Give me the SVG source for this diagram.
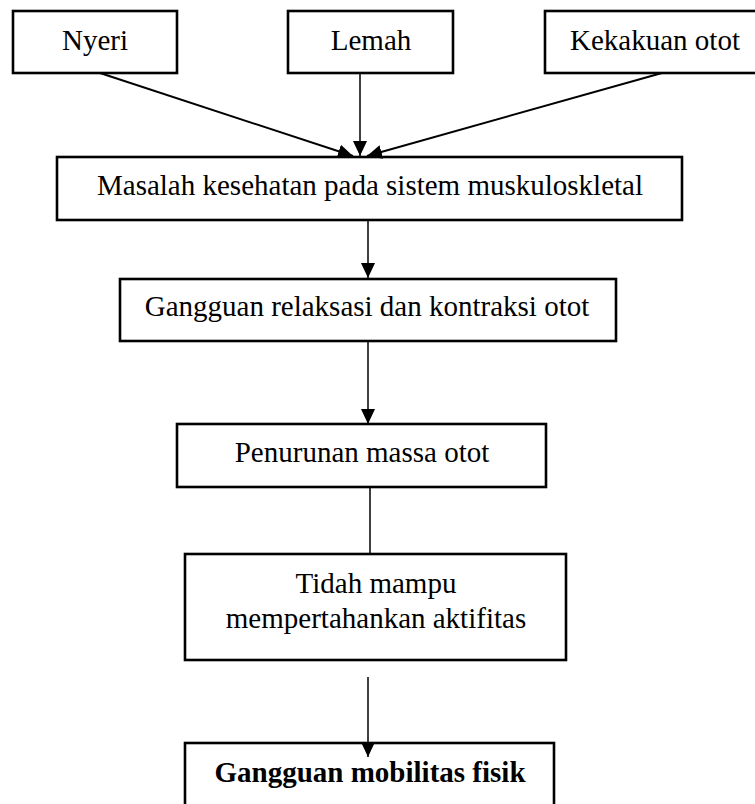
<svg xmlns="http://www.w3.org/2000/svg" width="755" height="804" viewBox="0 0 755 804">
<style>
.box{fill:#fff;stroke:#000;stroke-width:2.6}
.t{font-family:"Liberation Serif","Times New Roman",serif;font-size:29px;fill:#000;text-anchor:middle}
.b{font-weight:bold}
.c{stroke:#000;stroke-width:1.5;fill:none}
.d{stroke:#000;stroke-width:2;fill:none}
</style>
<defs>
<marker id="ah" markerUnits="userSpaceOnUse" markerWidth="16" markerHeight="16" viewBox="0 0 16 16" refX="15" refY="8" orient="auto">
<path d="M0,1 L15,8 L0,15 Z" fill="#000"/>
</marker>
</defs>
<rect width="755" height="804" fill="#fff"/>
<g id="nyeri"><rect class="box" x="13" y="11" width="164" height="62"/><text class="t" x="95" y="50">Nyeri</text></g>
<g id="lemah"><rect class="box" x="288" y="11" width="165" height="62"/><text class="t" x="371" y="50">Lemah</text></g>
<g id="kekakuan"><rect class="box" x="545" y="11" width="215" height="62"/><text class="t" x="655" y="50">Kekakuan otot</text></g>
<g id="masalah"><rect class="box" x="57" y="157" width="625" height="63"/><text class="t" x="370" y="195">Masalah kesehatan pada sistem muskuloskletal</text></g>
<g id="relaksasi"><rect class="box" x="120" y="279" width="496" height="62"/><text class="t" x="367" y="316">Gangguan relaksasi dan kontraksi otot</text></g>
<g id="penurunan"><rect class="box" x="177" y="424" width="369" height="63"/><text class="t" x="362" y="462">Penurunan massa otot</text></g>
<g id="tidah"><rect class="box" x="185" y="554" width="381" height="106"/><text class="t" x="376" y="593">Tidah mampu</text><text class="t" x="376" y="628">mempertahankan aktifitas</text></g>
<g id="mobilitas"><rect class="box" x="185" y="743" width="369" height="80"/><text class="t b" x="370" y="782">Gangguan mobilitas fisik</text></g>
<g id="connectors">
<line class="d" x1="100" y1="73" x2="353" y2="156" marker-end="url(#ah)"/>
<line class="c" x1="360" y1="73" x2="360" y2="156" marker-end="url(#ah)"/>
<line class="d" x1="662" y1="73" x2="367" y2="156" marker-end="url(#ah)"/>
<line class="c" x1="368" y1="220" x2="368" y2="278" marker-end="url(#ah)"/>
<line class="c" x1="368" y1="341" x2="368" y2="424" marker-end="url(#ah)"/>
<line class="c" x1="370" y1="488" x2="370" y2="554"/>
<line class="c" x1="368" y1="677" x2="368" y2="757" marker-end="url(#ah)"/>
</g>
</svg>
